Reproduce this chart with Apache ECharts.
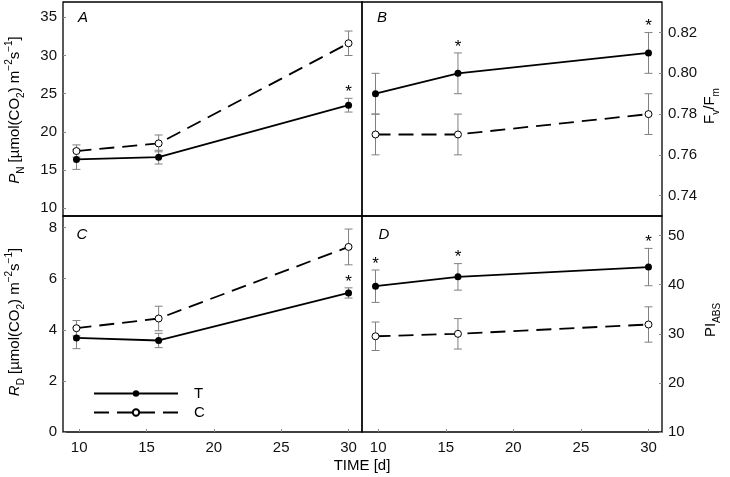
<!DOCTYPE html>
<html>
<head>
<meta charset="utf-8">
<script src="https://cdn.jsdelivr.net/npm/echarts@6/dist/echarts.min.js"></script>
<style>
  html, body { margin: 0; padding: 0; background: #fff; }
  #chart { width: 730px; height: 477px; }
</style>
</head>
<body>
<div id="chart"></div>
<script>
// sampling days (x positions)
const days = [9.8, 15.9, 30];

// A: net photosynthetic rate P_N
const pnT = [16.4, 16.7, 23.5];
const pnTErr = [1.3, 0.9, 0.9];
const pnC = [17.5, 18.5, 31.6];
const pnCErr = [0.8, 1.1, 1.6];
const sigA = [0, 0, 1];

// B: Fv/Fm
const fvT = [0.790, 0.800, 0.810];
const fvTErr = [0.010, 0.010, 0.010];
const fvC = [0.770, 0.770, 0.780];
const fvCErr = [0.010, 0.010, 0.010];
const sigB = [0, 1, 1];

// C: dark respiration R_D
const rdT = [3.68, 3.58, 5.44];
const rdTErr = [0.42, 0.28, 0.2];
const rdC = [4.06, 4.44, 7.24];
const rdCErr = [0.3, 0.48, 0.7];
const sigC = [0, 0, 1];

// D: PI_ABS
const piT = [39.7, 41.6, 43.6];
const piTErr = [3.3, 2.7, 3.8];
const piC = [29.5, 30.0, 31.9];
const piCErr = [2.9, 3.1, 3.6];
const sigD = [1, 1, 1];

const noSig = [0, 0, 0];

const FONT = '"Liberation Sans", Arial, sans-serif';
const ERR_COLOR = '#808080';

// Các ô lưới (2 x 2)
const grids = [
    { left: 63, top: 2, width: 299, height: 214 },
    { left: 362, top: 2, width: 300, height: 214 },
    { left: 63, top: 216, width: 299, height: 216 },
    { left: 362, top: 216, width: 300, height: 216 }
].map(g => Object.assign(g, { show: true, borderColor: '#000', borderWidth: 1.3, backgroundColor: 'transparent' }));

function xAxis(gridIndex, showLabels) {
    return {
        type: 'value', gridIndex, min: 8.8, max: 31, splitNumber: 5,
        axisLine: { show: false },
        splitLine: { show: false },
        axisTick: { show: showLabels, inside: true, length: 3, lineStyle: { color: '#888' } },
        axisLabel: {
            show: showLabels, showMinLabel: false, showMaxLabel: false,
            margin: 8, fontSize: 15, fontFamily: FONT, color: '#111'
        }
    };
}

function yAxis(gridIndex, opt) {
    return Object.assign({
        type: 'value', gridIndex,
        axisLine: { show: false },
        splitLine: { show: false },
        axisTick: { inside: true, length: 3, lineStyle: { color: '#888' } },
        axisLabel: {
            margin: 6, fontSize: 15, fontFamily: FONT, color: '#111',
            showMinLabel: opt.showMin, showMaxLabel: false,
            formatter: opt.fmt
        }
    }, opt.axis);
}

const xAxes = [xAxis(0, false), xAxis(1, false), xAxis(2, true), xAxis(3, true)];
const yAxes = [
    yAxis(0, { axis: { min: 9, max: 37, splitNumber: 5 }, showMin: false }),
    yAxis(1, { axis: { min: 0.73, max: 0.835, splitNumber: 5, position: 'right' }, showMin: false, fmt: v => v.toFixed(2) }),
    yAxis(2, { axis: { min: 0, max: 8.45, interval: 2 }, showMin: true }),
    yAxis(3, { axis: { min: 10, max: 54, interval: 10, position: 'right' }, showMin: true })
];

function lineSeries(name, idx, vals) {
    const isT = name === 'T';
    return {
        name, type: 'line', xAxisIndex: idx, yAxisIndex: idx,
        data: days.map((d, k) => [d, vals[k]]),
        symbol: 'circle', symbolSize: 7,
        lineStyle: { color: '#000', width: 1.8, type: isT ? 'solid' : [15, 8] },
        itemStyle: isT ? { color: '#000' } : { color: '#fff', borderColor: '#000', borderWidth: 1 },
        z: 3, silent: true
    };
}

// thanh sai số + dấu * (custom series)
function errSeries(idx, vals, errs, sig) {
    return {
        type: 'custom', xAxisIndex: idx, yAxisIndex: idx, z: 2, silent: true,
        data: days.map((d, k) => [d, vals[k], errs[k], sig[k]]),
        renderItem(params, api) {
            const x = api.value(0), v = api.value(1), e = api.value(2);
            const top = api.coord([x, v + e]);
            const bot = api.coord([x, v - e]);
            const cw = 4;
            const st = { stroke: ERR_COLOR, lineWidth: 1 };
            const children = [
                { type: 'line', shape: { x1: top[0], y1: top[1], x2: bot[0], y2: bot[1] }, style: st },
                { type: 'line', shape: { x1: top[0] - cw, y1: top[1], x2: top[0] + cw, y2: top[1] }, style: st },
                { type: 'line', shape: { x1: bot[0] - cw, y1: bot[1], x2: bot[0] + cw, y2: bot[1] }, style: st }
            ];
            if (api.value(3)) {
                children.push({
                    type: 'text', x: top[0], y: top[1] - 6,
                    style: {
                        text: '*', fill: '#000', font: '17px ' + FONT,
                        align: 'center', textAlign: 'center',
                        verticalAlign: 'middle', textVerticalAlign: 'middle'
                    }
                });
            }
            return { type: 'group', children };
        }
    };
}

const series = [
    errSeries(0, pnC, pnCErr, noSig), errSeries(0, pnT, pnTErr, sigA),
    errSeries(1, fvC, fvCErr, noSig), errSeries(1, fvT, fvTErr, sigB),
    errSeries(2, rdC, rdCErr, noSig), errSeries(2, rdT, rdTErr, sigC),
    errSeries(3, piC, piCErr, noSig), errSeries(3, piT, piTErr, sigD),
    lineSeries('T', 0, pnT), lineSeries('C', 0, pnC),
    lineSeries('T', 1, fvT), lineSeries('C', 1, fvC),
    lineSeries('T', 2, rdT), lineSeries('C', 2, rdC),
    lineSeries('T', 3, piT), lineSeries('C', 3, piC)
];

const RICH = {
    i: { font: 'italic 15px ' + FONT },
    sb: { font: '10px ' + FONT, verticalAlign: 'bottom', textVerticalAlign: 'bottom' },
    sp: { font: '10px ' + FONT, verticalAlign: 'top', textVerticalAlign: 'top' }
};

function title(x, y, text) {
    return {
        type: 'text', x, y, rotation: Math.PI / 2,
        style: {
            text, fill: '#000', font: '15px ' + FONT, lineHeight: 22, rich: RICH,
            align: 'center', textAlign: 'center', verticalAlign: 'middle', textVerticalAlign: 'middle'
        }
    };
}

function letter(x, y, text) {
    return {
        type: 'text', x, y,
        style: {
            text, fill: '#000', font: 'italic 15px ' + FONT,
            align: 'center', textAlign: 'center', verticalAlign: 'middle', textVerticalAlign: 'middle'
        }
    };
}

const chart = echarts.init(document.getElementById('chart'), null, { renderer: 'canvas' });
chart.setOption({
    animation: false,
    backgroundColor: '#fff',
    grid: grids,
    xAxis: xAxes,
    yAxis: yAxes,
    legend: {
        data: ['T', 'C'],
        orient: 'vertical', left: 88, top: 381,
        itemWidth: 84, itemHeight: 8, itemGap: 4,
        selectedMode: false,
        textStyle: { fontSize: 15, fontFamily: FONT, color: '#000', padding: [0, 0, 0, 11] }
    },
    graphic: [
        letter(83, 18, 'A'), letter(382, 18, 'B'), letter(82, 235, 'C'), letter(384, 235, 'D'),
        title(15, 110, '{i|P}{sb|N} [µmol(CO{sb|2}) m{sp|−2}s{sp|−1}]'),
        title(15, 322, '{i|R}{sb|D} [µmol(CO{sb|2}) m{sp|−2}s{sp|−1}]'),
        title(710, 106, 'F{sb|v}/F{sb|m}'),
        title(711, 320, 'PI{sb|ABS}'),
        {
            type: 'text', x: 362, y: 466,
            style: {
                text: 'TIME [d]', fill: '#000', font: '15px ' + FONT,
                align: 'center', textAlign: 'center', verticalAlign: 'middle', textVerticalAlign: 'middle'
            }
        }
    ],
    series
});
</script>
</body>
</html>
